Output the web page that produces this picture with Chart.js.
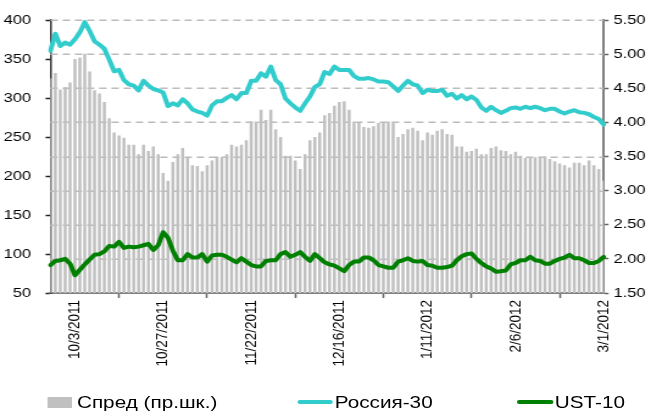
<!DOCTYPE html>
<html lang="ru">
<head>
  <meta charset="UTF-8" />
  <title>Россия-30 / UST-10 / Спред</title>
  <script src="https://cdn.jsdelivr.net/npm/chart.js"></script>
  <style>
    html, body {
      margin: 0;
      padding: 0;
      background: #fff;
      overflow: hidden;
    }
    /* the source picture is stretched ~1.22x sideways, so draw narrow and stretch */
    .wrap {
      position: relative;
      width: 534px;
      height: 411px;
      transform: scaleX(1.2191);
      transform-origin: 0 0;
    }
    .chart-box {
      position: absolute;
      left: 0;
      top: 0;
      width: 534px;
      height: 411px;
    }
    .legend {
      position: absolute;
      left: 0;
      top: 393.5px;
      width: 534px;
      height: 17px;
      font: 17px 'Liberation Sans', Arial, sans-serif;
      color: #000;
    }
    .legend .item {
      position: absolute;
      top: 0;
      white-space: nowrap;
      line-height: 17px;
    }
    .legend .mark {
      display: inline-block;
      vertical-align: middle;
      position: relative;
      top: -1px;
    }
  </style>
</head>
<body>
  <div class="wrap">
    <div class="chart-box"><canvas id="spreadChart"></canvas></div>
    <div class="legend" id="legend"></div>
  </div>

  <script>
    // spread, bp (left scale)
    const spread = [
      325, 332, 311, 314, 320, 350, 352, 357, 334, 310,
      306, 295, 274, 256, 252, 249, 240, 240, 228, 240,
      232, 238, 228, 204, 194, 218, 228, 236, 223, 214,
      213, 206, 214, 220, 225, 224, 228, 240, 238, 240,
      246, 270, 270, 285, 272, 285, 260, 250, 226, 226,
      220, 209, 228, 246, 250, 256, 278, 281, 290, 295,
      296, 285, 270, 268, 263, 262, 264, 268, 268, 270,
      268, 250, 254, 260, 262, 258, 246, 256, 253, 258,
      260, 254, 253, 238, 238, 231, 232, 235, 228, 228,
      236, 238, 233, 232, 228, 231, 226, 223, 223, 224,
      223, 225, 222, 219, 216, 214, 211, 217, 217, 214,
      220, 214, 209, 194
    ];

    // yields, % (right scale)
    const russia30 = [
      5.05, 5.30, 5.12, 5.17, 5.14, 5.22, 5.32, 5.47, 5.34, 5.19,
      5.14, 5.08, 4.92, 4.75, 4.77, 4.62, 4.56, 4.54, 4.47, 4.61,
      4.54, 4.49, 4.47, 4.44, 4.24, 4.28, 4.25, 4.34, 4.28, 4.19,
      4.16, 4.14, 4.10, 4.25, 4.31, 4.31, 4.36, 4.40, 4.34, 4.43,
      4.43, 4.61, 4.61, 4.72, 4.67, 4.82, 4.62, 4.56, 4.35, 4.28,
      4.22, 4.17, 4.28, 4.38, 4.52, 4.56, 4.74, 4.71, 4.82, 4.77,
      4.77, 4.77, 4.68, 4.64, 4.64, 4.65, 4.63, 4.60, 4.60, 4.59,
      4.53, 4.46, 4.54, 4.61, 4.56, 4.54, 4.43, 4.48, 4.46, 4.46,
      4.48, 4.39, 4.42, 4.35, 4.40, 4.34, 4.38, 4.33, 4.22, 4.17,
      4.23, 4.18, 4.14, 4.17, 4.21, 4.22, 4.20, 4.23, 4.21, 4.23,
      4.21, 4.18, 4.20, 4.20, 4.16, 4.13, 4.16, 4.18, 4.15, 4.14,
      4.12, 4.08, 4.05, 3.97
    ];

    const ust10 = [
      1.91, 1.97, 1.98, 2.00, 1.93, 1.76, 1.84, 1.92, 1.99, 2.06,
      2.07, 2.11, 2.19, 2.18, 2.25, 2.16, 2.18, 2.17, 2.18, 2.20,
      2.22, 2.13, 2.20, 2.39, 2.31, 2.12, 1.98, 1.98, 2.07, 2.02,
      2.02, 2.07, 1.96, 2.05, 2.06, 2.06, 2.03, 1.99, 1.95, 2.01,
      1.96, 1.91, 1.89, 1.89, 1.97, 1.98, 1.98, 2.07, 2.10, 2.03,
      2.06, 2.10, 2.03, 1.97, 2.07, 2.01, 1.95, 1.92, 1.90, 1.86,
      1.82, 1.91, 1.96, 1.96, 2.02, 2.02, 1.98, 1.91, 1.89, 1.87,
      1.87, 1.96, 1.98, 2.01, 1.97, 1.96, 1.97, 1.91, 1.90, 1.87,
      1.87, 1.88, 1.90, 1.98, 2.04, 2.07, 2.08, 2.00, 1.94, 1.89,
      1.86, 1.81, 1.82, 1.83, 1.92, 1.94, 1.98, 1.98, 2.03, 1.98,
      1.97, 1.93, 1.93, 1.97, 2.00, 2.02, 2.06, 2.01, 2.01, 1.98,
      1.94, 1.94, 1.97, 2.03
    ];

    // dates shown under the axis
    const tickDates = ['10/3/2011', '10/27/2011', '11/22/2011', '12/16/2011', '1/11/2012', '2/6/2012', '3/1/2012'];

    // one category per business day, starting Mon 26 Sep 2011
    const dates = [];
    for (let d = new Date(2011, 8, 26); dates.length < spread.length; d.setDate(d.getDate() + 1)) {
      if (d.getDay() === 0 || d.getDay() === 6) continue;
      dates.push((d.getMonth() + 1) + '/' + d.getDate() + '/' + d.getFullYear());
    }

    const FONT = "'Liberation Sans', Arial, sans-serif";
    const tickFont = { family: FONT, size: 13.5 };

    // dashed horizontal grid at the right-axis ticks, drawn under the datasets
    const dashedGrid = {
      id: 'dashedGrid',
      beforeDatasetsDraw(chart) {
        const { ctx, chartArea } = chart;
        const scale = chart.scales.y1;
        ctx.save();
        ctx.strokeStyle = '#bbbbbb';
        ctx.lineWidth = 1.5;
        ctx.setLineDash([6, 4]);
        scale.ticks.forEach(t => {
          if (t.value <= scale.min) return;
          const y = Math.round(scale.getPixelForValue(t.value)) + 0.25;
          ctx.beginPath();
          ctx.moveTo(chartArea.left, y);
          ctx.lineTo(chartArea.right, y);
          ctx.stroke();
        });
        ctx.restore();
      }
    };

    const chart = new Chart(document.getElementById('spreadChart'), {
      data: {
        labels: dates,
        datasets: [
          {
            type: 'bar',
            label: 'Спред (пр.шк.)',
            data: spread,
            yAxisID: 'y',
            backgroundColor: '#c0c0c0',
            barPercentage: 0.62,
            categoryPercentage: 1,
            order: 3
          },
          {
            type: 'line',
            label: 'Россия-30',
            data: russia30,
            yAxisID: 'y1',
            borderColor: '#33cccc',
            borderWidth: 4,
            pointRadius: 0,
            tension: 0,
            borderJoinStyle: 'round',
            borderCapStyle: 'round',
            order: 2
          },
          {
            type: 'line',
            label: 'UST-10',
            data: ust10,
            yAxisID: 'y1',
            borderColor: '#008000',
            borderWidth: 4,
            pointRadius: 0,
            tension: 0,
            borderJoinStyle: 'round',
            borderCapStyle: 'round',
            order: 1
          }
        ]
      },
      options: {
        responsive: true,
        maintainAspectRatio: false,
        animation: false,
        layout: { padding: { top: 20, left: 0, right: 0, bottom: 0 } },
        plugins: {
          legend: { display: false },
          tooltip: { enabled: false }
        },
        scales: {
          x: {
            type: 'category',
            offset: false,
            grid: { display: true, drawOnChartArea: false, tickLength: 5, tickColor: '#666', tickWidth: 1.5 },
            border: { color: '#808080', width: 2 },
            ticks: {
              autoSkip: false,
              minRotation: 90,
              maxRotation: 90,
              padding: 2,
              color: '#000',
              font: tickFont,
              callback: (v, i) => tickDates.includes(dates[i]) ? dates[i] : null
            },
            afterFit: s => { s.height = 118; }
          },
          y: {
            position: 'left',
            min: 50,
            max: 400,
            ticks: { stepSize: 50, padding: 12, color: '#000', font: tickFont },
            grid: { drawOnChartArea: false, tickLength: 4, tickColor: '#222', tickWidth: 1.5 },
            border: { color: '#333', width: 1.5 },
            afterFit: s => { s.width = 41.4; }
          },
          y1: {
            position: 'right',
            min: 1.5,
            max: 5.5,
            ticks: {
              stepSize: 0.5,
              padding: 4,
              color: '#000',
              font: tickFont,
              callback: v => v.toFixed(2)
            },
            grid: { drawOnChartArea: false, tickLength: 4, tickColor: '#666', tickWidth: 1.5 },
            border: { color: '#808080', width: 2 },
            afterFit: s => { s.width = 38.8; }
          }
        }
      },
      plugins: [dashedGrid]
    });

    // legend under the chart, built from the datasets
    const legendLeft = [38.6, 243.6, 424.1];
    const legendEl = document.getElementById('legend');
    chart.data.datasets.forEach((ds, i) => {
      const item = document.createElement('span');
      item.className = 'item';
      item.style.left = legendLeft[i] + 'px';
      const mark = document.createElement('span');
      mark.className = 'mark';
      if (ds.type === 'bar') {
        mark.style.width = '20.5px';
        mark.style.height = '11px';
        mark.style.background = ds.backgroundColor;
        mark.style.marginRight = '4px';
      } else {
        mark.style.width = '29.5px';
        mark.style.height = '4px';
        mark.style.borderRadius = '2px';
        mark.style.background = ds.borderColor;
        mark.style.marginRight = '1.5px';
      }
      item.appendChild(mark);
      item.appendChild(document.createTextNode(ds.label));
      legendEl.appendChild(item);
    });
  </script>
</body>
</html>
